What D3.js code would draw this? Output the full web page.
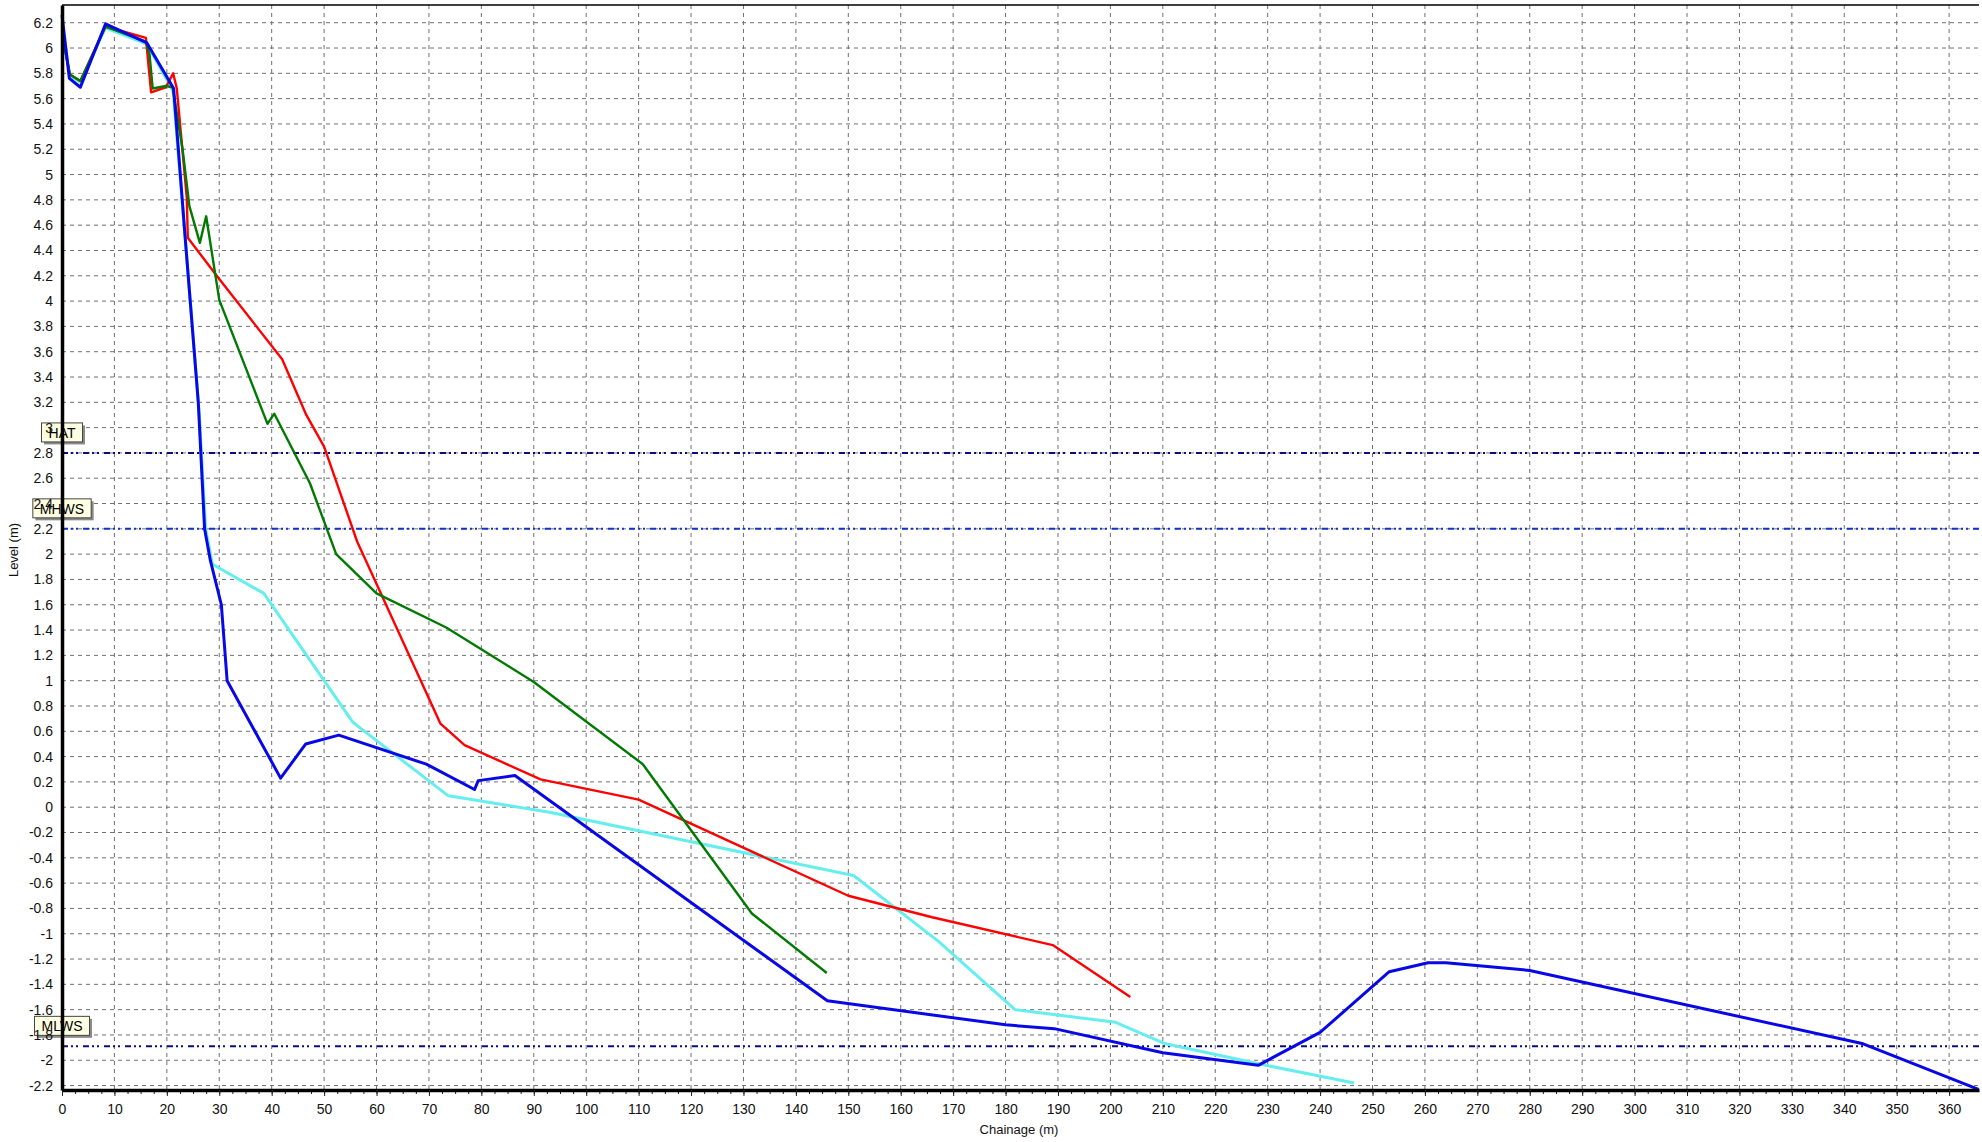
<!DOCTYPE html>
<html>
<head>
<meta charset="utf-8">
<script src="https://cdn.jsdelivr.net/npm/d3@7"></script>
<style>
  body { margin: 0; background: #fff; }
  svg { display: block; font-family: "Liberation Sans", Arial, sans-serif; }
</style>
</head>
<body>
<div id="d3-container"></div>
<script>
/* CONSTANTS AND GLOBALS */
const width = 1982,
  height = 1142,
  margin = { top: 5, bottom: 52, left: 62, right: 3 };

/* DATA (chainage m, level m) */
const redProfile = [[0,6.12],[1.5,5.79],[3.5,5.74],[8.3,6.17],[16.0,6.08],[17.0,5.65],[19.8,5.69],[21.2,5.8],[21.9,5.68],[23.8,4.82],[24.0,4.5],[29.7,4.19],[42,3.54],[46.6,3.1],[50,2.85],[56.3,2.1],[72.2,0.66],[76.8,0.49],[91.3,0.22],[110,0.06],[150,-0.70],[166,-0.87],[189,-1.09],[203.8,-1.5]];
const greenProfile = [[0,6.1],[1.5,5.79],[3.5,5.74],[8.3,6.17],[16.0,6.05],[16.7,5.95],[17.3,5.68],[19.8,5.7],[21.1,5.69],[23.0,5.2],[24.3,4.75],[26.3,4.46],[27.5,4.67],[30,4.01],[39.2,3.03],[40.5,3.11],[47.3,2.56],[52.3,2.0],[60,1.69],[73.3,1.42],[90,0.99],[110.8,0.34],[131.6,-0.84],[145.9,-1.31]];
const cyanProfile = [[0,6.18],[1.5,5.78],[3.5,5.73],[8.3,6.16],[16.2,6.03],[21.2,5.66],[23.5,4.5],[26.2,3.1],[27.4,2.2],[28.7,1.92],[38.5,1.69],[55.5,0.67],[73.7,0.09],[93,-0.04],[151,-0.54],[167.2,-1.06],[181.8,-1.6],[201,-1.7],[210.5,-1.87],[228.5,-2.03],[246.5,-2.18]];
const blueProfile = [[0,6.26],[1.4,5.76],[3.5,5.69],[8.3,6.19],[16.2,6.04],[21.3,5.68],[23.5,4.5],[26.0,3.2],[27.2,2.2],[28.3,1.95],[30.4,1.6],[31.5,1.0],[41.7,0.23],[46.5,0.5],[52.8,0.57],[69.5,0.34],[78.7,0.14],[79.4,0.21],[86.4,0.25],[146,-1.53],[180,-1.72],[189.3,-1.75],[210,-1.94],[228.2,-2.04],[240,-1.78],[253.2,-1.3],[260.6,-1.23],[264,-1.23],[280,-1.29],[343.6,-1.87],[365.6,-2.23]];

const tideNames = ["HAT", "MHWS", "MLWS"];
const tideLevels = [2.8, 2.2, -1.89];
const tideColors = ["#0c0c80", "#1430d0", "#0c0c80"];

const xTicks = [0,10,20,30,40,50,60,70,80,90,100,110,120,130,140,150,160,170,180,190,200,210,220,230,240,250,260,270,280,290,300,310,320,330,340,350,360];
const yTicks = [-2.2,-2,-1.8,-1.6,-1.4,-1.2,-1,-0.8,-0.6,-0.4,-0.2,0,0.2,0.4,0.6,0.8,1,1.2,1.4,1.6,1.8,2,2.2,2.4,2.6,2.8,3,3.2,3.4,3.6,3.8,4,4.2,4.4,4.6,4.8,5,5.2,5.4,5.6,5.8,6,6.2];

const series = [
  { data: cyanProfile, color: "#66eeee", w: 3 },
  { data: redProfile, color: "#ff0000", w: 2.4 },
  { data: greenProfile, color: "#007a00", w: 2.4 },
  { data: blueProfile, color: "#0808e6", w: 3 },
];

/* INIT */
const svg = d3.select("#d3-container")
  .append("svg")
  .attr("width", width)
  .attr("height", height);

svg.append("rect").attr("width", width).attr("height", height).attr("fill", "#fff");

const x = d3.scaleLinear()
  .domain([0, 365.7])
  .range([margin.left, width - margin.right]);

const y = d3.scaleLinear()
  .domain([-2.235, 6.34])
  .range([height - margin.bottom, margin.top]);

const x0 = x.range()[0], x1 = x.range()[1];
const y0 = y.range()[0], y1 = y.range()[1];

// grid
svg.append("g")
  .selectAll("line")
  .data(xTicks.filter(d => d > 0))
  .join("line")
  .attr("x1", d => x(d)).attr("x2", d => x(d))
  .attr("y1", y1).attr("y2", y0)
  .attr("stroke", "#707070")
  .attr("stroke-dasharray", "4,4");

svg.append("g")
  .selectAll("line")
  .data(yTicks)
  .join("line")
  .attr("x1", x0).attr("x2", x1)
  .attr("y1", d => y(d)).attr("y2", d => y(d))
  .attr("stroke", "#707070")
  .attr("stroke-dasharray", "4,4");

// tide level lines
svg.append("g")
  .selectAll("line")
  .data(tideLevels)
  .join("line")
  .attr("x1", x0).attr("x2", x1)
  .attr("y1", d => y(d)).attr("y2", d => y(d))
  .attr("stroke", (d, i) => tideColors[i])
  .attr("stroke-width", 2)
  .attr("stroke-dasharray", "6,3,2,3,2,5");

// profiles
const line = d3.line().x(d => x(d[0])).y(d => y(d[1]));
svg.append("g")
  .selectAll("path")
  .data(series)
  .join("path")
  .attr("d", d => line(d.data))
  .attr("fill", "none")
  .attr("stroke", d => d.color)
  .attr("stroke-width", d => d.w)
  .attr("stroke-linejoin", "round");

// tide labels
const tags = svg.append("g")
  .selectAll("g")
  .data(tideNames)
  .join("g");

tags.each(function (name, i) {
  const g = d3.select(this);
  const top = y(tideLevels[i]) - 30;
  const txt = g.append("text")
    .attr("y", top + 15)
    .attr("font-size", 14)
    .attr("fill", "#000")
    .text(name);
  const tw = txt.node().getComputedTextLength();
  const bw = tw + 14;
  const bx = x0 - bw / 2;
  g.insert("rect", "text")
    .attr("x", bx + 2.5).attr("y", top + 2.5)
    .attr("width", bw).attr("height", 19)
    .attr("fill", "#8a8a8a");
  g.insert("rect", "text")
    .attr("x", bx).attr("y", top)
    .attr("width", bw).attr("height", 19)
    .attr("fill", "#ffffe1")
    .attr("stroke", "#444")
    .attr("stroke-width", 1);
  txt.attr("x", bx + 7);
});

// top border
svg.append("line")
  .attr("x1", x0).attr("x2", x1)
  .attr("y1", y1).attr("y2", y1)
  .attr("stroke", "#000").attr("stroke-width", 1.5);

// x axis: minor then major
svg.append("g")
  .attr("transform", `translate(0,${y0})`)
  .call(d3.axisBottom(x).tickValues(d3.range(0, 365, 2.5)).tickSize(4).tickFormat(""))
  .call(g => g.select(".domain").remove())
  .call(g => g.selectAll("line").attr("stroke", "#222"));

const xAxis = svg.append("g")
  .attr("transform", `translate(0,${y0})`)
  .call(d3.axisBottom(x).tickValues(xTicks).tickSize(6).tickSizeOuter(0).tickFormat(d => d));
xAxis.select(".domain").attr("stroke", "#000").attr("stroke-width", 3.5);
xAxis.selectAll("line").attr("stroke", "#222");
xAxis.selectAll("text")
  .attr("y", 14)
  .attr("font-size", 14)
  .attr("font-family", "Liberation Sans, Arial, sans-serif")
  .attr("fill", "#111");

// y axis
const yAxis = svg.append("g")
  .attr("transform", `translate(${x0},0)`)
  .call(d3.axisLeft(y).tickValues(yTicks).tickSize(0).tickSizeOuter(0).tickFormat(d => d));
yAxis.select(".domain").attr("stroke", "#000").attr("stroke-width", 3.5);
yAxis.selectAll("text")
  .attr("x", -9)
  .attr("font-size", 14)
  .attr("font-family", "Liberation Sans, Arial, sans-serif")
  .attr("fill", "#111");

// axis titles
svg.append("text")
  .attr("x", 1019).attr("y", 1134)
  .attr("text-anchor", "middle")
  .attr("font-size", 13)
  .attr("fill", "#111")
  .text("Chainage (m)");

svg.append("text")
  .attr("transform", "translate(18,550) rotate(-90)")
  .attr("text-anchor", "middle")
  .attr("font-size", 13)
  .attr("fill", "#111")
  .text("Level (m)");
</script>
</body>
</html>
